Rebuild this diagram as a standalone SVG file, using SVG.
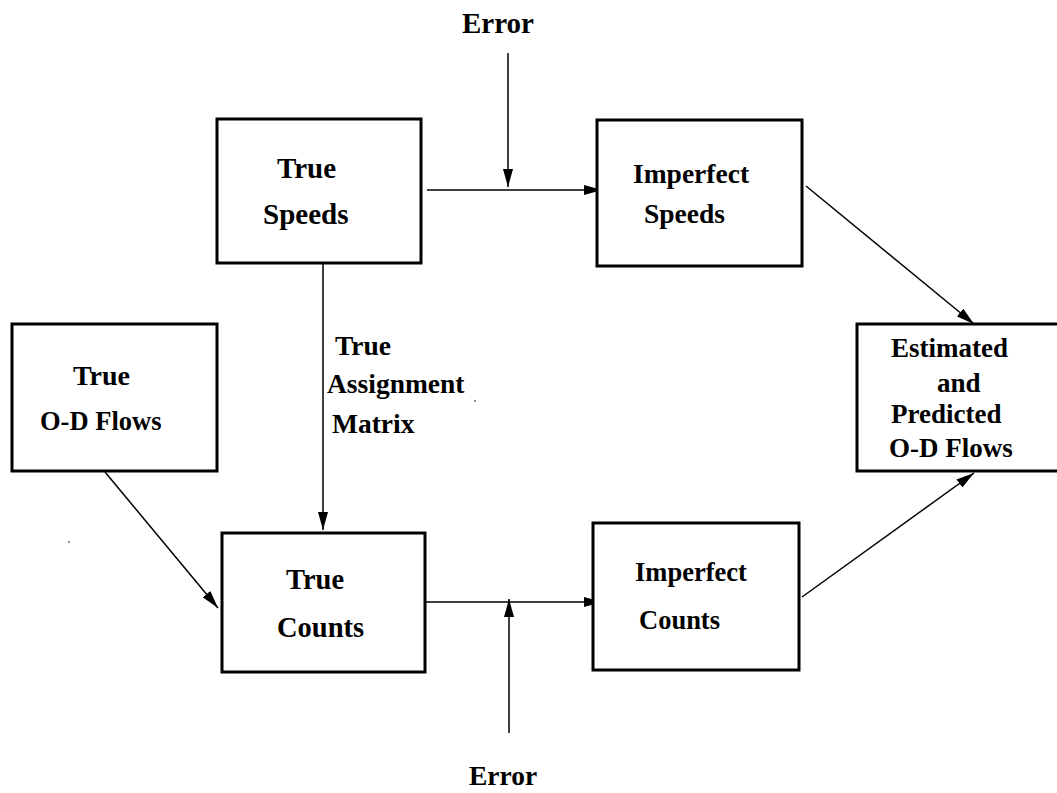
<svg xmlns="http://www.w3.org/2000/svg" width="1057" height="793" viewBox="0 0 1057 793">
<style>
.box{fill:#fff;stroke:#000;stroke-width:3}
.t{font-family:"Liberation Serif","Times New Roman",serif;font-weight:bold;fill:#000}
.c{stroke:#000;stroke-width:1.5;fill:none;marker-end:url(#ah)}
</style>
<defs>
<marker id="ah" viewBox="0 0 18 10" refX="18" refY="5" markerWidth="18" markerHeight="10" markerUnits="userSpaceOnUse" orient="auto">
<path d="M0,0 L18,5 L0,10 z" fill="#000"/>
</marker>
</defs>
<rect width="1057" height="793" fill="#fff"/>
<g id="connectors">
<line class="c" x1="427" y1="190" x2="602" y2="190"/>
<line class="c" x1="508" y1="53" x2="508" y2="187"/>
<line class="c" x1="323" y1="264" x2="323" y2="530"/>
<line class="c" x1="105" y1="472" x2="218" y2="608"/>
<line class="c" x1="425" y1="602" x2="602" y2="602"/>
<line class="c" x1="509" y1="733" x2="509" y2="599"/>
<line class="c" x1="806" y1="186" x2="974" y2="324"/>
<line class="c" x1="802" y1="597" x2="974" y2="473"/>
</g>
<g id="error-top"><text class="t" x="462" y="33" font-size="29">Error</text></g>
<g id="true-speeds">
<rect class="box" x="217" y="119" width="204" height="144"/>
<text class="t" x="277" y="178" font-size="29">True</text>
<text class="t" x="263" y="224" font-size="29">Speeds</text>
</g>
<g id="imperfect-speeds">
<rect class="box" x="597" y="120" width="205" height="146"/>
<text class="t" x="633" y="183" font-size="27.5">Imperfect</text>
<text class="t" x="644" y="223" font-size="27.5">Speeds</text>
</g>
<g id="true-od">
<rect class="box" x="12" y="324" width="205" height="147"/>
<text class="t" x="73" y="385" font-size="28">True</text>
<text class="t" x="40" y="430" font-size="26.5">O-D Flows</text>
</g>
<g id="assignment-label">
<text class="t" x="335" y="355" font-size="27.5">True</text>
<text class="t" x="327" y="393" font-size="27.5">Assignment</text>
<text class="t" x="332" y="433" font-size="27.5">Matrix</text>
</g>
<g id="estimated">
<rect class="box" x="857" y="324" width="210" height="147"/>
<text class="t" x="891" y="357" font-size="27">Estimated</text>
<text class="t" x="937" y="392" font-size="27">and</text>
<text class="t" x="891" y="423" font-size="27">Predicted</text>
<text class="t" x="889" y="457" font-size="27">O-D Flows</text>
</g>
<g id="true-counts">
<rect class="box" x="222" y="533" width="203" height="139"/>
<text class="t" x="286" y="589" font-size="28.5">True</text>
<text class="t" x="277" y="637" font-size="28.5">Counts</text>
</g>
<g id="imperfect-counts">
<rect class="box" x="593" y="523" width="206" height="147"/>
<text class="t" x="635" y="581" font-size="26.5">Imperfect</text>
<text class="t" x="639" y="629" font-size="26.5">Counts</text>
</g>
<g id="error-bottom"><text class="t" x="469" y="785" font-size="27.5">Error</text></g>
<circle cx="475" cy="401" r="0.8" fill="#000"/>
<circle cx="69" cy="542" r="0.8" fill="#000"/>
</svg>
